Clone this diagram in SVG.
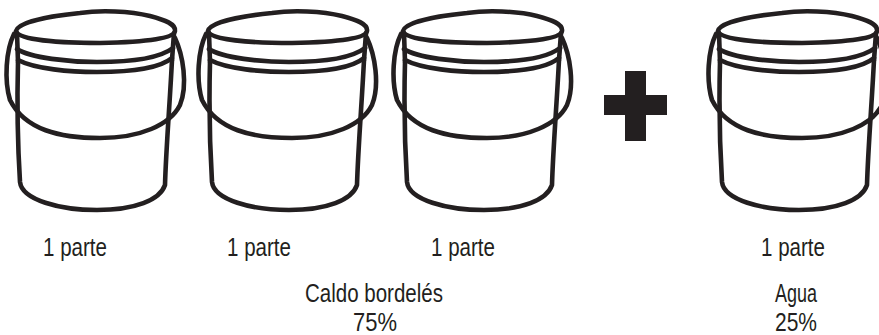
<svg xmlns="http://www.w3.org/2000/svg" xmlns:xlink="http://www.w3.org/1999/xlink" width="879" height="335" viewBox="0 0 879 335">
  <style>
    .ink { fill: none; stroke: #231f20; stroke-width: 4.6; stroke-linecap: round; stroke-linejoin: round; }
    .lbl { font-family: "Liberation Sans", Arial, sans-serif; font-size: 25.5px; fill: #231f20; text-anchor: middle; }
  </style>
  <defs>
    <!-- hand-drawn bucket, origin at top-left of the first bucket -->
    <g id="bucket">
      <!-- lid rim -->
      <path class="ink" d="M16,31 C18,22 50,16 80,13 C100,10 130,11 150,16 C165,20 176,24 175,31 C174,38 150,42 100,43 C60,43 18,40 16,31 Z"/>
      <!-- rim sides -->
      <path class="ink" d="M17,33 L18,62 M174,33 L172,60"/>
      <!-- rim bands -->
      <path class="ink" d="M17,49 C30,58 70,62 97,62 C130,62 160,58 173,48"/>
      <path class="ink" d="M18,60 C35,69 70,72 97,72 C130,72 160,68 172,58"/>
      <!-- body -->
      <path class="ink" d="M18,62 C17,100 18,150 20,182 C22,200 60,210 97,210 C135,210 160,200 165,185 C166,150 170,100 172,60"/>
      <!-- handle -->
      <path class="ink" d="M14,34 C6,50 4,80 10,100 C25,130 60,138 100,138 C140,138 170,125 180,105 C188,85 183,55 175,38"/>
    </g>
  </defs>

  <g id="bucket-1">
    <use xlink:href="#bucket"/>
    <text class="lbl" x="75" y="256" textLength="64" lengthAdjust="spacingAndGlyphs">1 parte</text>
  </g>
  <g id="bucket-2">
    <use xlink:href="#bucket" transform="translate(192,0)"/>
    <text class="lbl" x="259" y="256" textLength="64" lengthAdjust="spacingAndGlyphs">1 parte</text>
  </g>
  <g id="bucket-3">
    <use xlink:href="#bucket" transform="translate(387,0)"/>
    <text class="lbl" x="463" y="256" textLength="64" lengthAdjust="spacingAndGlyphs">1 parte</text>
  </g>
  <g id="plus">
    <rect x="604" y="95" width="63" height="20" fill="#231f20"/>
    <rect x="625" y="71" width="21" height="70" fill="#231f20"/>
  </g>
  <g id="bucket-4">
    <use xlink:href="#bucket" transform="translate(702,0)"/>
    <text class="lbl" x="793" y="256" textLength="64" lengthAdjust="spacingAndGlyphs">1 parte</text>
  </g>

  <g id="labels">
    <text class="lbl" x="374" y="302" textLength="138" lengthAdjust="spacingAndGlyphs">Caldo bordelés</text>
    <text class="lbl" x="375" y="331" textLength="44" lengthAdjust="spacingAndGlyphs">75%</text>
    <text class="lbl" x="796" y="302" textLength="42" lengthAdjust="spacingAndGlyphs">Agua</text>
    <text class="lbl" x="796" y="331" textLength="42" lengthAdjust="spacingAndGlyphs">25%</text>
  </g>
  <g id="connectors"/>
</svg>
